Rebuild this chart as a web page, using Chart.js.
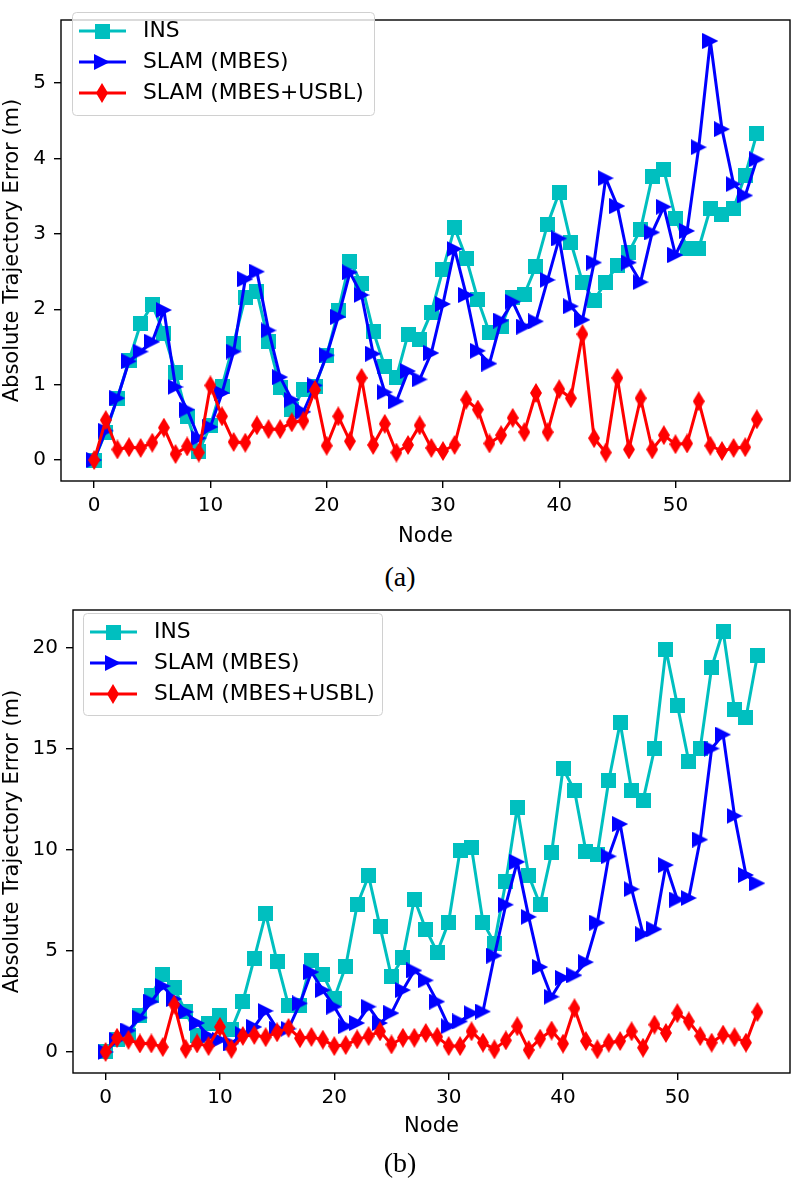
<!DOCTYPE html>
<html>
<head>
<meta charset="utf-8">
<title>Absolute Trajectory Error</title>
<script src="https://cdn.jsdelivr.net/npm/chart.js"></script>
<style>
    body { margin: 0; background: #fff; }
    #wrap { position: relative; width: 800px; height: 1181px; overflow: hidden; }
    canvas { position: absolute; left: 0; }
    .cap {
        position: absolute; left: 0; width: 800px; text-align: center;
        font-family: 'Liberation Serif', 'Times New Roman', serif;
        font-size: 28px; line-height: 34px; color: #000;
    }
</style>
</head>
<body>
<div id="wrap">
    <canvas id="chartA" width="800" height="560" style="top:0px"></canvas>
    <div class="cap" style="top:560px">(a)</div>
    <canvas id="chartB" width="800" height="560" style="top:590px"></canvas>
    <div class="cap" style="top:1146px">(b)</div>
</div>
<script>
const nodes = [0, 1, 2, 3, 4, 5, 6, 7, 8, 9, 10, 11, 12, 13, 14, 15, 16, 17, 18, 19,
    20, 21, 22, 23, 24, 25, 26, 27, 28, 29, 30, 31, 32, 33, 34, 35, 36, 37, 38, 39,
    40, 41, 42, 43, 44, 45, 46, 47, 48, 49, 50, 51, 52, 53, 54, 55, 56, 57];
const seriesNames = ['INS', 'SLAM (MBES)', 'SLAM (MBES+USBL)'];
const xTicks = [0, 10, 20, 30, 40, 50];

// (a)
const insA = [0, 0.37, 0.82, 1.32, 1.81, 2.06, 1.68, 1.16, 0.58, 0.11,
    0.46, 0.98, 1.55, 2.16, 2.23, 1.57, 0.96, 0.67, 0.93, 0.98,
    1.39, 1.98, 2.64, 2.34, 1.71, 1.24, 1.10, 1.67, 1.60, 1.96,
    2.53, 3.08, 2.68, 2.13, 1.69, 1.77, 2.15, 2.20, 2.57, 3.13,
    3.55, 2.89, 2.36, 2.12, 2.36, 2.58, 2.76, 3.06, 3.76, 3.85,
    3.21, 2.81, 2.81, 3.34, 3.26, 3.34, 3.78, 4.33];
const mbesA = [0, 0.39, 0.82, 1.31, 1.44, 1.57, 1.99, 0.97, 0.67, 0.29,
    0.44, 0.89, 1.44, 2.40, 2.50, 1.72, 1.10, 0.80, 0.64, 0.99,
    1.39, 1.90, 2.49, 2.19, 1.41, 0.90, 0.78, 1.18, 1.07, 1.42,
    2.07, 2.80, 2.19, 1.45, 1.28, 1.85, 2.10, 1.77, 1.84, 2.39,
    2.94, 2.04, 1.86, 2.62, 3.74, 3.37, 2.62, 2.36, 3.02, 3.36,
    2.72, 3.04, 4.15, 5.56, 4.39, 3.66, 3.51, 3.99];
const usblA = [0, 0.53, 0.14, 0.17, 0.16, 0.23, 0.43, 0.08, 0.18, 0.10,
    0.99, 0.58, 0.24, 0.23, 0.46, 0.41, 0.41, 0.50, 0.52, 0.93,
    0.19, 0.58, 0.25, 1.09, 0.20, 0.48, 0.10, 0.20, 0.46, 0.16,
    0.12, 0.20, 0.80, 0.67, 0.22, 0.33, 0.56, 0.37, 0.89, 0.37,
    0.94, 0.82, 1.67, 0.29, 0.10, 1.09, 0.14, 0.82, 0.14, 0.33,
    0.21, 0.22, 0.78, 0.19, 0.12, 0.16, 0.17, 0.54];
const yTicksA = [0, 1, 2, 3, 4, 5];

// (b)
const insB = [0, 0.6, 0.8, 1.8, 2.8, 3.84, 3.17, 1.98, 0.79, 1.39,
    1.79, 1.10, 2.49, 4.63, 6.83, 4.45, 2.29, 2.31, 4.5, 3.85,
    2.65, 4.24, 7.28, 8.70, 6.20, 3.71, 4.68, 7.56, 6.07, 4.93,
    6.42, 9.97, 10.10, 6.42, 5.38, 8.42, 12.08, 8.72, 7.28, 9.84,
    14.0, 12.94, 9.93, 9.77, 13.41, 16.28, 12.93, 12.44, 14.98, 19.89,
    17.15, 14.36, 15.01, 19.02, 20.81, 16.93, 16.52, 19.61];
const mbesB = [0, 0.6, 1.06, 1.7, 2.49, 3.26, 2.62, 1.98, 1.43, 0.79,
    0.6, 0.42, 0.88, 1.24, 2.03, 1.15, 1.15, 2.40, 3.95, 3.06,
    2.24, 1.27, 1.43, 2.24, 1.43, 1.92, 3.06, 4.03, 3.54, 2.49,
    1.27, 1.51, 1.92, 2.0, 4.76, 7.28, 9.40, 6.68, 4.20, 2.73,
    3.66, 3.79, 4.44, 6.39, 9.67, 11.27, 8.05, 5.82, 6.07, 9.24,
    7.53, 7.61, 10.5, 15.0, 15.69, 11.67, 8.75, 8.34];
const usblB = [0, 0.7, 0.6, 0.42, 0.42, 0.24, 2.34, 0.15, 0.42, 0.29,
    1.24, 0.15, 0.79, 0.84, 0.73, 0.97, 1.19, 0.68, 0.74, 0.61,
    0.29, 0.34, 0.62, 0.78, 1.02, 0.37, 0.70, 0.70, 0.94, 0.75,
    0.29, 0.29, 1.02, 0.46, 0.13, 0.57, 1.27, 0.10, 0.66, 1.06,
    0.41, 2.16, 0.54, 0.13, 0.46, 0.54, 1.02, 0.21, 1.35, 0.94,
    1.92, 1.51, 0.78, 0.46, 0.86, 0.73, 0.46, 1.97];
const yTicksB = [0, 5, 10, 15, 20];

const colors = ['#00bfbf', '#0000ff', '#ff0000'];

// matplotlib style markers: square, right triangle, thin diamond
function makeMarker(kind, color) {
    const c = document.createElement('canvas');
    const size = { square: [15, 15], tri: [16, 16], diamond: [12, 20] }[kind];
    const w = size[0], h = size[1];
    c.width = w; c.height = h;
    const g = c.getContext('2d');
    g.fillStyle = color;
    g.beginPath();
    if (kind === 'square') {
        g.rect(0, 0, w, h);
    } else if (kind === 'tri') {
        g.moveTo(0, 0); g.lineTo(w, h / 2); g.lineTo(0, h);
    } else {
        g.moveTo(w / 2, 0); g.lineTo(w, h / 2); g.lineTo(w / 2, h); g.lineTo(0, h / 2);
    }
    g.closePath();
    g.fill();
    return c;
}
const markers = [makeMarker('square', colors[0]), makeMarker('tri', colors[1]), makeMarker('diamond', colors[2])];

Chart.defaults.font.family = "'DejaVu Sans', sans-serif";
Chart.defaults.color = '#000';

const framePlugin = {
    id: 'frame',
    afterDatasetsDraw(chart) {
        const a = chart.chartArea, ctx = chart.ctx;
        ctx.save();
        ctx.strokeStyle = '#000';
        ctx.lineWidth = 1.4;
        ctx.strokeRect(a.left, a.top, a.right - a.left, a.bottom - a.top);
        ctx.restore();
    }
};

const innerLegend = {
    id: 'innerLegend',
    afterDraw(chart, args, opts) {
        const ctx = chart.ctx;
        const { x, y, w, h } = opts;
        ctx.save();
        ctx.beginPath();
        ctx.roundRect(x + 0.5, y + 0.5, w, h, 4);
        ctx.fillStyle = 'rgba(255,255,255,0.8)';
        ctx.fill();
        ctx.strokeStyle = '#d0d0d0';
        ctx.lineWidth = 1;
        ctx.stroke();
        ctx.font = "21.8px 'DejaVu Sans'";
        ctx.textBaseline = 'middle';
        seriesNames.forEach((name, i) => {
            const ry = y + 19 + i * 31;
            ctx.strokeStyle = colors[i];
            ctx.lineWidth = 3;
            ctx.beginPath();
            ctx.moveTo(x + 7, ry);
            ctx.lineTo(x + 54, ry);
            ctx.stroke();
            const m = markers[i];
            ctx.drawImage(m, Math.round(x + 30 - m.width / 2), Math.round(ry - m.height / 2));
            ctx.fillStyle = '#000';
            ctx.fillText(name, x + 71, ry);
        });
        ctx.restore();
    }
};

function toXY(vals) {
    return nodes.map((n, i) => ({ x: n, y: vals[i] }));
}

function makeDatasets(series) {
    return series.map((vals, i) => ({
        label: seriesNames[i],
        data: toXY(vals),
        borderColor: colors[i],
        backgroundColor: colors[i],
        borderWidth: 3,
        borderJoinStyle: 'round',
        pointStyle: markers[i],
        pointRadius: 7,
        tension: 0,
        order: 3 - i
    }));
}

function makeChart(id, series, yMin, yMax, yTicks, yAxisW, xAxisH, padTop, legendBox) {
    const tickFont = { size: 20 };
    const gridOpts = { drawOnChartArea: false, drawTicks: true, tickLength: 7, tickColor: '#000', lineWidth: 1.4 };
    return new Chart(document.getElementById(id), {
        type: 'line',
        data: { datasets: makeDatasets(series) },
        plugins: [framePlugin, innerLegend],
        options: {
            responsive: false,
            animation: false,
            devicePixelRatio: 1,
            layout: { padding: { top: padTop, right: 1, left: 0, bottom: 0 } },
            plugins: {
                legend: { display: false },
                tooltip: { enabled: false },
                innerLegend: legendBox
            },
            scales: {
                x: {
                    type: 'linear',
                    min: -2.85,
                    max: 59.85,
                    afterBuildTicks: s => { s.ticks = xTicks.map(v => ({ value: v })); },
                    afterFit: s => { s.height = xAxisH; },
                    grid: gridOpts,
                    border: { display: false },
                    ticks: { font: tickFont, padding: 6, maxRotation: 0, autoSkip: false, callback: v => String(v) },
                    title: { display: true, text: 'Node', font: { size: 21 }, padding: { top: 0, bottom: 11 } }
                },
                y: {
                    min: yMin,
                    max: yMax,
                    afterBuildTicks: s => { s.ticks = yTicks.map(v => ({ value: v })); },
                    afterFit: s => { s.width = yAxisW; },
                    grid: gridOpts,
                    border: { display: false },
                    ticks: { font: tickFont, padding: 8, autoSkip: false, callback: v => String(v) },
                    title: { display: true, text: 'Absolute Trajectory Error (m)', font: { size: 21 }, padding: { top: 0, bottom: 0 } }
                }
            }
        }
    });
}

makeChart('chartA', [insA, mbesA, usblA], -0.278, 5.838, yTicksA, 61, 79, 1,
    { x: 72, y: 12, w: 302, h: 103 });
makeChart('chartB', [insB, mbesB, usblB], -1.04, 21.85, yTicksB, 73, 77, 12,
    { x: 83, y: 23, w: 299, h: 102 });
</script>
</body>
</html>
